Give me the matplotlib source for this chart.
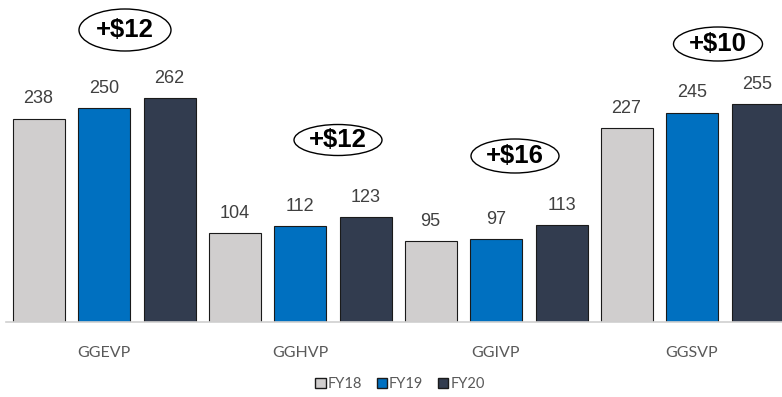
import numpy as np
import matplotlib.pyplot as plt
from matplotlib.patches import Ellipse

# values per fund, three fiscal years
categories = ["GGEVP", "GGHVP", "GGIVP", "GGSVP"]
fy18 = [238, 104, 95, 227]
fy19 = [250, 112, 97, 245]
fy20 = [262, 123, 113, 255]
series_names = ["FY18", "FY19", "FY20"]
changes = ["+$12", "+$12", "+$16", "+$10"]

colors = ["#D0CECE", "#0070C0", "#323C4F"]
W, H = 782, 397
label_font = ["Lato", "DejaVu Sans"]

fig = plt.figure(figsize=(W / 100, H / 100), dpi=100)
# axes run a little past the right edge so the last bar is cut off
ax = fig.add_axes([6 / W, (H - 322) / H, 784 / W, 300 * 0.855 / H])

x = np.arange(len(categories))
bw = 52 / 196
step = 65.5 / 196
for i, (vals, name, c) in enumerate(zip([fy18, fy19, fy20], series_names, colors)):
    pos = x + (i - 1) * step
    ax.bar(pos, vals, width=bw, color=c, edgecolor="#1a1a1a", linewidth=0.8, label=name)
    for px, v in zip(pos, vals):
        ax.annotate(str(v), (px, v), xytext=(0, 8), textcoords="offset points",
                    ha="center", va="bottom", fontsize=13, color="#404040",
                    family=["Liberation Sans", "DejaVu Sans"])

ax.set_xlim(-0.5, 3.5)
ax.set_ylim(0, 300)
ax.set_xticks(x)
ax.set_xticklabels(categories, fontsize=11.5, color="#595959", family=label_font)
ax.tick_params(axis="x", length=0, pad=17)
ax.set_yticks([])
for s in ["top", "right", "left"]:
    ax.spines[s].set_visible(False)
ax.spines["bottom"].set_color("#D0D0D0")
ax.spines["bottom"].set_linewidth(1.2)

# change callouts (centre x, centre y, width, height in pixels)
callouts = [(125, 30, 92, 42), (338, 140, 88, 31), (515, 156, 88, 34), (718, 44, 89, 34)]
for (cx, cy, ew, eh), txt in zip(callouts, changes):
    fig.add_artist(Ellipse((cx / W, 1 - cy / H), ew / W, eh / H, transform=fig.transFigure,
                           facecolor="white", edgecolor="black", linewidth=1.0))
    fig.text(cx / W, 1 - cy / H, txt, ha="center", va="center", fontsize=18.5,
             fontweight="bold", color="black", family=["Liberation Sans", "DejaVu Sans"])

leg = fig.legend(loc="center", bbox_to_anchor=(400 / W, 1 - 384 / H), ncol=3, frameon=False,
                 handlelength=0.7, handleheight=0.7, handletextpad=0.15, columnspacing=1.0,
                 prop={"family": label_font, "size": 10.5})
for t in leg.get_texts():
    t.set_color("#595959")
for p in leg.get_patches():
    p.set_linewidth(1.0)

fig.savefig("out.png", dpi=100)
